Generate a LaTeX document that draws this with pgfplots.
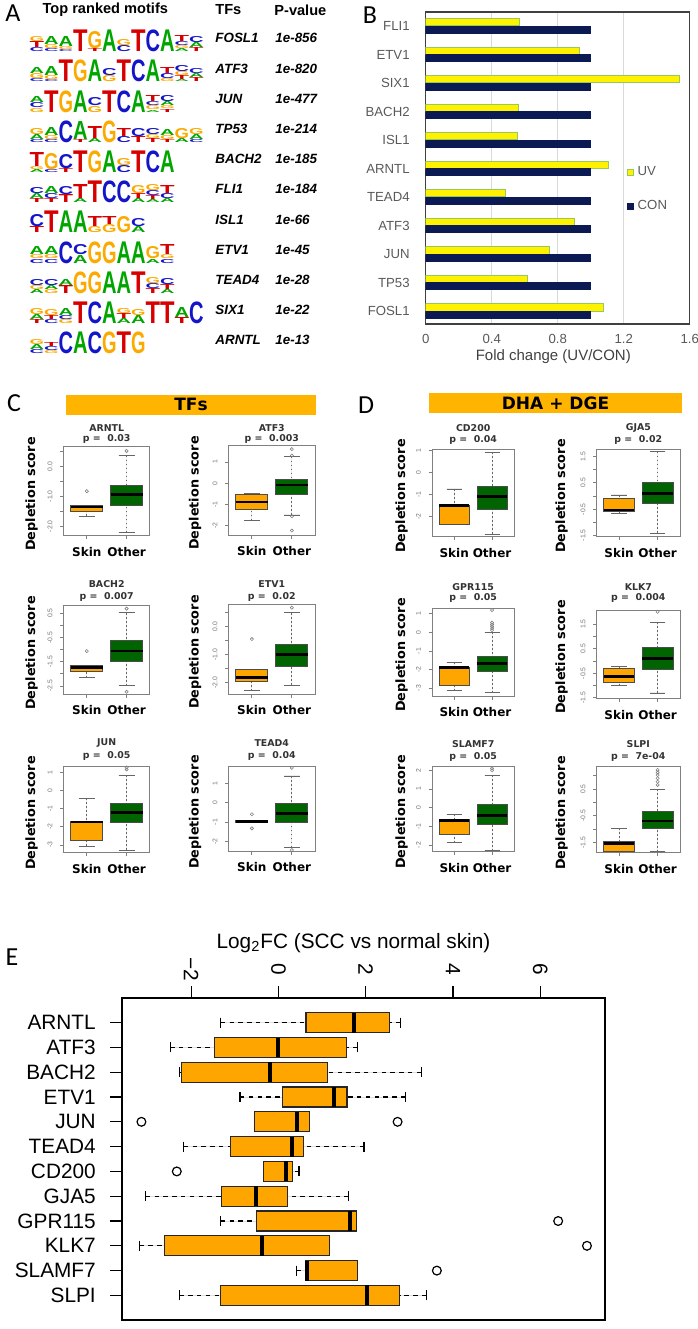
\documentclass[border=0pt]{standalone}
\usepackage{fontspec}
\setmainfont{Liberation Sans}
\newfontfamily\dv{DejaVu Sans}
\newfontfamily\carl{Carlito}
\usepackage{graphicx}
\usepackage{pgfplots}
\usepackage{pgfplotstable}
\usepgfplotslibrary{statistics}
\pgfplotsset{compat=1.18}
\newcommand\pxu{0.5pt}
\newcommand\fs[1]{\fontsize{#1}{#1}\selectfont}
\definecolor{orgR}{HTML}{FFA500}
\definecolor{dgreen}{HTML}{006400}
\definecolor{banner}{RGB}{255,180,0}
\definecolor{navyB}{RGB}{12,26,84}
\definecolor{uvedge}{RGB}{150,200,90}
\definecolor{lgA}{RGB}{0,165,0}
\definecolor{lgC}{RGB}{20,20,200}
\definecolor{lgG}{RGB}{250,170,0}
\definecolor{lgT}{RGB}{215,0,0}
\newcommand\Lt[2]{\hbox{\color{lg#1}\resizebox{7.25pt}{#2pt}{\bfseries #1}}}
\newcommand\K[1]{\vbox{\offinterlineskip #1}}
\newcommand\F[1]{\K{\Lt{#1}{10.8}}}
\pgfplotstableread{
y uv con
0 1.079 1.0
1 0.616 1.0
2 0.749 1.0
3 0.899 1.0
4 0.485 1.0
5 1.109 1.0
6 0.557 1.0
7 0.563 1.0
8 1.535 1.0
9 0.931 1.0
10 0.570 1.0
}\tfB
\pgfplotsset{
 boxplot/draw/lower whisker/.code={%
  \draw[/pgfplots/boxplot/every whisker/.try] (boxplot box cs:\pgfplotsboxplotvalue{lower whisker},0.5) -- (boxplot box cs:\pgfplotsboxplotvalue{lower quartile},0.5);
  \draw[/pgfplots/boxplot/every cap/.try] (boxplot whisker cs:\pgfplotsboxplotvalue{lower whisker},0) -- (boxplot whisker cs:\pgfplotsboxplotvalue{lower whisker},1);
 },
 boxplot/draw/upper whisker/.code={%
  \draw[/pgfplots/boxplot/every whisker/.try] (boxplot box cs:\pgfplotsboxplotvalue{upper whisker},0.5) -- (boxplot box cs:\pgfplotsboxplotvalue{upper quartile},0.5);
  \draw[/pgfplots/boxplot/every cap/.try] (boxplot whisker cs:\pgfplotsboxplotvalue{upper whisker},0) -- (boxplot whisker cs:\pgfplotsboxplotvalue{upper whisker},1);
 },
 bp/.style n args={6}{boxplot prepared={draw position=#1,lower whisker=#2,lower quartile=#3,median=#4,upper quartile=#5,upper whisker=#6}},
 dep/.style={scale only axis, anchor=north west, xmin=0.42, xmax=2.58, xtick={1,2}, xticklabels={Skin,Other},
  axis line style={black!50, line width=0.5pt}, tick style={black!50, line width=0.4pt}, tick align=outside,
  major tick length=1.8pt, xtick pos=left, ytick pos=left, clip=false,
  xticklabel style={font=\dv\bfseries\fs{6}, text=black, anchor=center, yshift=-6.45pt},
  yticklabel style={font=\fs{3.4}, text=black!55, anchor=center, xshift=-5.05pt, rotate=90},
  boxplot/draw direction=y, boxplot/box extend=0.8, boxplot/whisker extend=0.4,
  boxplot/every whisker/.style={dash pattern=on 0.9pt off 1.1pt, black!60, line width=0.4pt},
  boxplot/every cap/.style={solid, black!60, line width=0.4pt},
  boxplot/every median/.style={solid, black, line width=1.3pt},
  boxplot/every box/.style={draw=black!70, line width=0.4pt}},
 skin/.style={fill=orgR, draw=black!70, mark=o, mark size=0.8pt, mark options={solid, black!50, line width=0.3pt, fill=none}},
 other/.style={fill=dgreen, draw=black!70, mark=o, mark size=0.8pt, mark options={solid, black!50, line width=0.3pt, fill=none}},
 ebox/.style={fill=orgR, draw=black!85, line width=0.6pt, mark=o, mark size=2.2pt, mark options={solid, black, line width=0.6pt, fill=none}},
}
\newcommand\ptitle[4]{\node[font=\dv\bfseries\fs{4.7}, text=black!80] at (#1*\pxu,-#2*\pxu) {#4};}
\begin{document}
\begin{tikzpicture}
\path[use as bounding box] (0,0) rectangle (697*\pxu,-1329*\pxu);
% ---------------- Panel A ----------------
\node[font=\carl\fs{13}] at (13*\pxu,-13.5*\pxu) {A};
\node[font=\bfseries\fs{7.3}] at (105.3*\pxu,-10*\pxu) {Top ranked motifs};
\node[font=\bfseries\fs{7.3}, anchor=west, inner sep=0pt] at (215*\pxu,-10*\pxu) {TFs};
\node[font=\bfseries\fs{7.3}, anchor=west, inner sep=0pt] at (274*\pxu,-10*\pxu) {P-value};
\begin{scope}[every node/.style={anchor=south west, inner sep=0pt}]
\node at (29.3*\pxu,-52.3*\pxu) {\K{\Lt{G}{2.5}\Lt{T}{3}\Lt{C}{2}}\K{\Lt{A}{4}\Lt{G}{2}\Lt{C}{1.5}}\K{\Lt{A}{5}\Lt{G}{1.5}\Lt{C}{1}}\F{T}\K{\Lt{G}{8.5}\Lt{T}{1.5}}\F{A}\K{\Lt{G}{3}\Lt{C}{3}}\F{T}\F{C}\F{A}\K{\Lt{T}{3}\Lt{C}{2}\Lt{G}{1.5}\Lt{A}{1.5}}\K{\Lt{C}{3}\Lt{A}{2.5}\Lt{T}{2}}};
\node at (29.3*\pxu,-82.5*\pxu) {\K{\Lt{A}{3}\Lt{G}{2.5}\Lt{C}{1.5}}\K{\Lt{A}{4.5}\Lt{G}{2}\Lt{C}{1}}\F{T}\F{G}\F{A}\K{\Lt{C}{3.5}\Lt{G}{3}}\F{T}\F{C}\F{A}\K{\Lt{T}{3}\Lt{C}{2.5}\Lt{G}{1.5}}\K{\Lt{C}{3}\Lt{G}{2}\Lt{T}{2}\Lt{A}{1}}\K{\Lt{C}{2.5}\Lt{A}{2}\Lt{T}{2}}};
\node at (29.3*\pxu,-112.7*\pxu) {\K{\Lt{A}{3}\Lt{C}{2.5}\Lt{G}{2}}\F{T}\F{G}\F{A}\K{\Lt{C}{4}\Lt{G}{3}}\F{T}\F{C}\F{A}\K{\Lt{T}{3}\Lt{C}{2}\Lt{G}{2}\Lt{A}{1}}\K{\Lt{C}{3}\Lt{A}{2}\Lt{G}{1.5}\Lt{T}{1.5}}};
\node at (29.3*\pxu,-142.9*\pxu) {\K{\Lt{G}{3}\Lt{A}{2.5}\Lt{C}{1.5}}\K{\Lt{A}{4}\Lt{G}{2}\Lt{C}{1.5}}\F{C}\K{\Lt{A}{9}\Lt{T}{1.5}}\K{\Lt{T}{6}\Lt{A}{2}}\F{G}\K{\Lt{T}{4}\Lt{C}{3}}\K{\Lt{C}{4}\Lt{T}{3}}\K{\Lt{C}{3}\Lt{G}{2}\Lt{T}{2}}\K{\Lt{A}{3}\Lt{G}{2}\Lt{T}{1.5}}\K{\Lt{G}{5}\Lt{A}{2}}\K{\Lt{G}{3}\Lt{A}{2.5}\Lt{C}{1.5}}};
\node at (29.3*\pxu,-173.1*\pxu) {\K{\Lt{T}{7}\Lt{G}{1.5}\Lt{A}{1.5}}\K{\Lt{G}{8}\Lt{C}{1.5}}\K{\Lt{C}{7}\Lt{T}{2}}\F{T}\F{G}\F{A}\K{\Lt{G}{3.5}\Lt{C}{3.5}}\F{T}\F{C}\F{A}};
\node at (29.3*\pxu,-203.3*\pxu) {\K{\Lt{C}{3}\Lt{A}{2.5}\Lt{T}{2}}\K{\Lt{A}{3.5}\Lt{C}{2.5}\Lt{T}{2}}\K{\Lt{C}{4}\Lt{T}{4}}\K{\Lt{T}{7}\Lt{A}{2}}\F{T}\F{C}\F{C}\K{\Lt{G}{4}\Lt{T}{2.5}\Lt{A}{2}}\K{\Lt{G}{3}\Lt{C}{2.5}\Lt{T}{2}\Lt{A}{1.5}}\K{\Lt{T}{4}\Lt{C}{2.5}\Lt{A}{2}}};
\node at (29.3*\pxu,-233.5*\pxu) {\K{\Lt{C}{6}\Lt{T}{3}}\F{T}\F{A}\F{A}\K{\Lt{T}{5}\Lt{G}{3}}\K{\Lt{T}{4}\Lt{G}{4}}\K{\Lt{G}{8}}\K{\Lt{C}{4}\Lt{A}{3}}};
\node at (29.3*\pxu,-263.7*\pxu) {\K{\Lt{A}{4}\Lt{G}{2}\Lt{C}{2}}\K{\Lt{A}{4}\Lt{G}{2}\Lt{C}{2}}\F{C}\K{\Lt{C}{5}\Lt{A}{4}}\F{G}\F{G}\F{A}\F{A}\K{\Lt{G}{6}\Lt{A}{2}}\K{\Lt{T}{5}\Lt{G}{2}\Lt{C}{2}}};
\node at (29.3*\pxu,-293.9*\pxu) {\K{\Lt{C}{3}\Lt{G}{2}\Lt{A}{2}}\K{\Lt{C}{3}\Lt{A}{2}\Lt{G}{2}}\K{\Lt{A}{3}\Lt{T}{4}}\F{G}\F{G}\F{A}\F{A}\F{T}\K{\Lt{G}{3}\Lt{C}{2.5}\Lt{T}{2.5}}\K{\Lt{C}{3}\Lt{T}{2.5}\Lt{A}{2}}};
\node at (29.3*\pxu,-324.1*\pxu) {\K{\Lt{G}{3}\Lt{A}{2.5}\Lt{T}{2}}\K{\Lt{G}{3}\Lt{T}{2}\Lt{C}{2}}\K{\Lt{A}{3.5}\Lt{C}{2}\Lt{G}{2}}\F{T}\F{C}\F{A}\K{\Lt{G}{2.5}\Lt{T}{2.5}\Lt{A}{2.5}}\K{\Lt{G}{3}\Lt{A}{4}}\F{T}\F{T}\K{\Lt{A}{5}\Lt{T}{3}}\F{C}};
\node at (29.3*\pxu,-354.3*\pxu) {\K{\Lt{G}{2.5}\Lt{A}{2.5}\Lt{C}{2}}\K{\Lt{T}{2}\Lt{C}{2}\Lt{G}{1.5}}\F{C}\F{A}\F{C}\F{G}\F{T}\F{G}};
\end{scope}
\begin{scope}[every node/.style={anchor=west, inner sep=0pt, font=\bfseries\itshape\fs{6.7}}]
\node at (215*\pxu,-38.3*\pxu) {FOSL1};  \node at (275*\pxu,-38.3*\pxu) {1e-856};
\node at (215*\pxu,-68.5*\pxu) {ATF3};   \node at (275*\pxu,-68.5*\pxu) {1e-820};
\node at (215*\pxu,-98.7*\pxu) {JUN};    \node at (275*\pxu,-98.7*\pxu) {1e-477};
\node at (215*\pxu,-128.9*\pxu) {TP53};  \node at (275*\pxu,-128.9*\pxu) {1e-214};
\node at (215*\pxu,-159.1*\pxu) {BACH2}; \node at (275*\pxu,-159.1*\pxu) {1e-185};
\node at (215*\pxu,-189.3*\pxu) {FLI1};  \node at (275*\pxu,-189.3*\pxu) {1e-184};
\node at (215*\pxu,-219.5*\pxu) {ISL1};  \node at (275*\pxu,-219.5*\pxu) {1e-66};
\node at (215*\pxu,-249.7*\pxu) {ETV1};  \node at (275*\pxu,-249.7*\pxu) {1e-45};
\node at (215*\pxu,-279.9*\pxu) {TEAD4}; \node at (275*\pxu,-279.9*\pxu) {1e-28};
\node at (215*\pxu,-310.1*\pxu) {SIX1};  \node at (275*\pxu,-310.1*\pxu) {1e-22};
\node at (215*\pxu,-340.3*\pxu) {ARNTL}; \node at (275*\pxu,-340.3*\pxu) {1e-13};
\end{scope}
% ---------------- Panel B ----------------
\node[font=\carl\fs{13}] at (370*\pxu,-15*\pxu) {B};
\begin{axis}[at={(425.7*\pxu,-324*\pxu)}, anchor=south west, scale only axis,
 width=264*\pxu, height=312*\pxu, xmin=0, xmax=1.6, ymin=-0.456, ymax=10.49,
 xtick={0,0.4,0.8,1.2,1.6}, xticklabels={0,0.4,0.8,1.2,1.6},
 ytick={0,...,10}, yticklabels={FOSL1,TP53,JUN,ATF3,TEAD4,ARNTL,ISL1,BACH2,SIX1,ETV1,FLI1},
 major tick length=0pt, xmajorgrids, major grid style={black!15, line width=0.5pt},
 axis line style={black!75, line width=0.7pt},
 tick label style={font=\fs{6.6}, text=black!65},
 yticklabel style={xshift=-4.5pt}, xticklabel style={yshift=-1.75pt},
 legend image code/.code={\draw[#1] (0pt,-1.4pt) rectangle (3pt,1.4pt);},
 legend style={at={(0.7606,0.52)}, anchor=north west, draw=none, fill=none, font=\fs{6.6}, text=black!65, row sep=7pt, inner sep=0pt},
 legend cell align=left]
\addplot[xbar, bar width=3.6pt, bar shift=1.85pt, fill=yellow, draw=uvedge, line width=0.4pt] table[x=uv,y=y]{\tfB};
\addlegendentry{UV}
\addplot[xbar, bar width=3.6pt, bar shift=-1.85pt, fill=navyB, draw=navyB, line width=0.4pt] table[x=con,y=y]{\tfB};
\addlegendentry{CON}
\end{axis}
\node[font=\fs{7.5}, text=black!75] at (553.3*\pxu,-356.7*\pxu) {Fold change (UV/CON)};
% ---------------- Panel C / D headers ----------------
\node[font=\carl\fs{13}] at (14*\pxu,-403*\pxu) {C};
\node[font=\carl\fs{13}] at (366*\pxu,-405*\pxu) {D};
\fill[banner] (66*\pxu,-395*\pxu) rectangle (316*\pxu,-414.5*\pxu);
\node[font=\dv\bfseries\fs{8.5}] at (191*\pxu,-404.7*\pxu) {TFs};
\fill[banner] (429.3*\pxu,-393.3*\pxu) rectangle (681.7*\pxu,-412.7*\pxu);
\node[font=\dv\bfseries\fs{8.5}] at (555.5*\pxu,-403*\pxu) {DHA + DGE};
% titles
\ptitle{106.7}{428.3}{}{ARNTL} \ptitle{106.7}{439.3}{}{p =\ \ 0.03}
\ptitle{271.8}{428.3}{}{ATF3} \ptitle{271.8}{439.3}{}{p =\ \ 0.003}
\ptitle{106.7}{584}{}{BACH2} \ptitle{106.7}{596.5}{}{p =\ \ 0.007}
\ptitle{271.8}{584}{}{ETV1} \ptitle{271.8}{596.5}{}{p =\ \ 0.02}
\ptitle{106.7}{743}{}{JUN} \ptitle{106.7}{756}{}{p =\ \ 0.05}
\ptitle{271.8}{743}{}{TEAD4} \ptitle{271.8}{756}{}{p =\ \ 0.04}
\ptitle{473.2}{428.3}{}{CD200} \ptitle{473.2}{440}{}{p =\ \ 0.04}
\ptitle{638.3}{428.3}{}{GJA5} \ptitle{638.3}{440}{}{p =\ \ 0.02}
\ptitle{473.2}{587.3}{}{GPR115} \ptitle{473.2}{598.3}{}{p =\ \ 0.05}
\ptitle{638.3}{587.3}{}{KLK7} \ptitle{638.3}{598.3}{}{p =\ \ 0.004}
\ptitle{473.2}{744}{}{SLAMF7} \ptitle{473.2}{756.7}{}{p =\ \ 0.05}
\ptitle{638.3}{744}{}{SLPI} \ptitle{638.3}{756.7}{}{p =\ \ 7e-04}
% y labels
\begin{scope}[every node/.style={rotate=90, font=\dv\bfseries\fs{6.4}}]
\node at (31.7*\pxu,-494*\pxu) {Depletion score};
\node at (195*\pxu,-493*\pxu) {Depletion score};
\node at (31.7*\pxu,-653*\pxu) {Depletion score};
\node at (195*\pxu,-652*\pxu) {Depletion score};
\node at (31.7*\pxu,-813*\pxu) {Depletion score};
\node at (195*\pxu,-812*\pxu) {Depletion score};
\node at (401.7*\pxu,-496*\pxu) {Depletion score};
\node at (561.7*\pxu,-496*\pxu) {Depletion score};
\node at (401.7*\pxu,-655*\pxu) {Depletion score};
\node at (561.7*\pxu,-657*\pxu) {Depletion score};
\node at (401.7*\pxu,-812*\pxu) {Depletion score};
\node at (561.7*\pxu,-813*\pxu) {Depletion score};
\end{scope}
% ARNTL
\begin{axis}[dep, at={(63.7*\pxu,-446.7*\pxu)}, width=86*\pxu, height=89*\pxu, ymin=-2.32, ymax=0.66,
 ytick={-2,-1.5,-1,-0.5,0,0.5}, yticklabels={-2.0,,-1.0,,0.0,}]
\addplot[skin, bp={1}{-1.67}{-1.49}{-1.36}{-1.31}{-1.31}] table[row sep=\\,y index=0]{v\\ -0.83\\};
\addplot[other, bp={2}{-2.21}{-1.30}{-0.94}{-0.63}{0.36}] table[row sep=\\,y index=0]{v\\ 0.52\\};
\end{axis}
% ATF3
\begin{axis}[dep, at={(228.7*\pxu,-445.3*\pxu)}, width=86.3*\pxu, height=89.7*\pxu, ymin=-2.43, ymax=1.78,
 ytick={-2,-1,0,1}, yticklabels={-2,-1,0,1}]
\addplot[skin, bp={1}{-1.74}{-1.25}{-0.88}{-0.52}{-0.47}] coordinates {};
\addplot[other, bp={2}{-1.49}{-0.52}{-0.08}{0.19}{1.25}] table[row sep=\\,y index=0]{v\\ 1.6\\ 1.3\\ -1.55\\ -2.22\\};
\end{axis}
% BACH2
\begin{axis}[dep, at={(63.7*\pxu,-605.7*\pxu)}, width=86*\pxu, height=88.3*\pxu, ymin=-2.83, ymax=0.81,
 ytick={-2.5,-2,-1.5,-1,-0.5,0,0.5}, yticklabels={-2.5,,-1.5,,-0.5,,0.5}]
\addplot[skin, bp={1}{-2.16}{-1.88}{-1.73}{-1.64}{-1.64}] table[row sep=\\,y index=0]{v\\ -1.06\\};
\addplot[other, bp={2}{-2.48}{-1.47}{-1.05}{-0.64}{0.52}] table[row sep=\\,y index=0]{v\\ 0.69\\ -2.74\\};
\end{axis}
% ETV1
\begin{axis}[dep, at={(228.7*\pxu,-604*\pxu)}, width=86.3*\pxu, height=90*\pxu, ymin=-2.40, ymax=0.81,
 ytick={-2,-1.5,-1,-0.5,0,0.5}, yticklabels={-2.0,,-1.0,,0.0,}]
\addplot[skin, bp={1}{-2.28}{-1.94}{-1.82}{-1.54}{-1.54}] table[row sep=\\,y index=0]{v\\ -0.44\\};
\addplot[other, bp={2}{-2.08}{-1.40}{-0.99}{-0.64}{0.5}] table[row sep=\\,y index=0]{v\\ 0.68\\};
\end{axis}
% JUN
\begin{axis}[dep, at={(63.7*\pxu,-766.7*\pxu)}, width=86*\pxu, height=86*\pxu, ymin=-3.43, ymax=1.33,
 ytick={-3,-2,-1,0,1}, yticklabels={-3,-2,-1,0,1}]
\addplot[skin, bp={1}{-3.06}{-2.73}{-1.73}{-1.68}{-0.42}] coordinates {};
\addplot[other, bp={2}{-3.28}{-1.77}{-1.20}{-0.70}{0.87}] table[row sep=\\,y index=0]{v\\ 1.29\\ 1.18\\};
\end{axis}
% TEAD4
\begin{axis}[dep, at={(228.7*\pxu,-766.7*\pxu)}, width=86.3*\pxu, height=84.3*\pxu, ymin=-2.5, ymax=1.86,
 ytick={-2,-1,0,1}, yticklabels={-2,-1,0,1}]
\addplot[skin, bp={1}{-1.01}{-1.01}{-0.96}{-0.91}{-0.91}] table[row sep=\\,y index=0]{v\\ -0.60\\ -1.33\\};
\addplot[other, bp={2}{-2.31}{-1.02}{-0.55}{-0.03}{1.38}] table[row sep=\\,y index=0]{v\\ 1.8\\ -2.45\\};
\end{axis}
% CD200
\begin{axis}[dep, at={(432.3*\pxu,-449*\pxu)}, width=81.7*\pxu, height=87.7*\pxu, ymin=-2.9, ymax=1.05,
 ytick={-2,-1,0,1}, yticklabels={-2,-1,0,1}]
\addplot[skin, bp={1}{-2.33}{-2.33}{-1.50}{-1.47}{-0.75}] coordinates {};
\addplot[other, bp={2}{-2.79}{-1.65}{-1.10}{-0.62}{0.90}] coordinates {};
\end{axis}
% GJA5
\begin{axis}[dep, at={(596.7*\pxu,-449*\pxu)}, width=83.3*\pxu, height=87.7*\pxu, ymin=-1.55, ymax=1.79,
 ytick={-1.5,-1,-0.5,0,0.5,1,1.5}, yticklabels={-1.5,,-0.5,,0.5,,1.5}]
\addplot[skin, bp={1}{-0.68}{-0.57}{-0.54}{-0.09}{0.04}] coordinates {};
\addplot[other, bp={2}{-1.41}{-0.27}{0.10}{0.53}{1.69}] coordinates {};
\end{axis}
% GPR115
\begin{axis}[dep, at={(432.3*\pxu,-608*\pxu)}, width=81.7*\pxu, height=88*\pxu, ymin=-3.42, ymax=1.31,
 ytick={-3,-2,-1,0,1}, yticklabels={-3,-2,-1,0,1}]
\addplot[skin, bp={1}{-3.14}{-2.83}{-1.88}{-1.88}{-1.61}] coordinates {};
\addplot[other, bp={2}{-3.25}{-2.12}{-1.67}{-1.27}{0.0}] table[row sep=\\,y index=0]{v\\ 1.2\\ 0.52\\ 0.42\\ 0.32\\ 0.22\\ 0.12\\};
\end{axis}
% KLK7
\begin{axis}[dep, at={(596.7*\pxu,-610*\pxu)}, width=83.3*\pxu, height=88.3*\pxu, ymin=-1.52, ymax=2.07,
 ytick={-1.5,-1,-0.5,0,0.5,1,1.5}, yticklabels={-1.5,,-0.5,,0.5,,1.5}]
\addplot[skin, bp={1}{-1.0}{-0.87}{-0.64}{-0.31}{-0.24}] coordinates {};
\addplot[other, bp={2}{-1.30}{-0.34}{0.11}{0.56}{1.58}] table[row sep=\\,y index=0]{v\\ 2.0\\};
\end{axis}
% SLAMF7
\begin{axis}[dep, at={(432.3*\pxu,-766.7*\pxu)}, width=81.7*\pxu, height=85*\pxu, ymin=-2.35, ymax=2.19,
 ytick={-2,-1,0,1,2}, yticklabels={-2,-1,0,1,2}]
\addplot[skin, bp={1}{-1.87}{-1.40}{-0.69}{-0.62}{-0.34}] coordinates {};
\addplot[other, bp={2}{-2.29}{-0.89}{-0.43}{0.18}{1.74}] table[row sep=\\,y index=0]{v\\ 2.1\\ 2.0\\};
\end{axis}
% SLPI
\begin{axis}[dep, at={(596.7*\pxu,-766.7*\pxu)}, width=83.3*\pxu, height=86*\pxu, ymin=-1.88, ymax=1.33,
 ytick={-1.5,-1,-0.5,0,0.5,1}, yticklabels={-1.5,,-0.5,,0.5,}]
\addplot[skin, bp={1}{-1.83}{-1.82}{-1.53}{-1.45}{-0.97}] coordinates {};
\addplot[other, bp={2}{-1.84}{-0.97}{-0.70}{-0.35}{0.49}] table[row sep=\\,y index=0]{v\\ 1.21\\ 1.11\\ 1.02\\ 0.90\\ 0.77\\ 0.65\\};
\end{axis}
% ---------------- Panel E ----------------
\node[font=\carl\fs{13}] at (12*\pxu,-957*\pxu) {E};
\node[font=\fs{10.4}] at (353.5*\pxu,-943*\pxu) {Log\textsubscript{2}FC (SCC vs normal skin)};
\begin{axis}[at={(121.8*\pxu,-998.3*\pxu)}, anchor=north west, scale only axis,
 width=483.5*\pxu, height=321.4*\pxu, xmin=-3.59, xmax=7.49, ymin=0.02, ymax=12.98, y dir=reverse,
 xtick={-2,0,2,4,6}, xticklabels={−2,0,2,4,6}, xtick pos=right, xticklabel pos=right,
 ytick={1,...,12}, yticklabels={ARNTL,ATF3,BACH2,ETV1,JUN,TEAD4,CD200,GJA5,GPR115,KLK7,SLAMF7,SLPI},
 ytick pos=left, tick align=outside, major tick length=6pt, tick style={black, line width=0.6pt},
 axis line style={black, line width=0.9pt}, tick label style={font=\fs{10.4}},
 yticklabel style={xshift=-3.5pt}, xticklabel style={yshift=8.65pt, rotate=-90, anchor=center},
 clip=false,
 boxplot/box extend=0.8, boxplot/whisker extend=0.4,
 boxplot/every whisker/.style={dash pattern=on 2.2pt off 2.2pt, black, line width=0.6pt},
 boxplot/every cap/.style={solid, black, line width=0.6pt},
 boxplot/every median/.style={solid, black, line width=2pt},
 boxplot/every box/.style={draw=black!85, line width=0.6pt}]
\addplot[ebox, bp={1}{-1.32}{0.63}{1.74}{2.54}{2.80}] coordinates {};
\addplot[ebox, bp={2}{-2.48}{-1.46}{0.00}{1.56}{1.81}] coordinates {};
\addplot[ebox, bp={3}{-2.26}{-2.22}{-0.20}{1.12}{3.27}] coordinates {};
\addplot[ebox, bp={4}{-0.88}{0.10}{1.28}{1.57}{2.91}] coordinates {};
\addplot[ebox, bp={5}{-0.55}{-0.55}{0.43}{0.71}{0.71}] table[row sep=\\,y index=0]{v\\ -3.14\\ 2.73\\};
\addplot[ebox, bp={6}{-2.17}{-1.09}{0.31}{0.57}{1.96}] coordinates {};
\addplot[ebox, bp={7}{-0.34}{-0.34}{0.17}{0.33}{0.47}] table[row sep=\\,y index=0]{v\\ -2.33\\};
\addplot[ebox, bp={8}{-3.04}{-1.30}{-0.51}{0.21}{1.61}] coordinates {};
\addplot[ebox, bp={9}{-1.32}{-0.50}{1.65}{1.79}{1.79}] table[row sep=\\,y index=0]{v\\ 6.41\\};
\addplot[ebox, bp={10}{-3.18}{-2.61}{-0.37}{1.17}{1.17}] table[row sep=\\,y index=0]{v\\ 7.07\\};
\addplot[ebox, bp={11}{0.41}{0.62}{0.65}{1.82}{1.82}] table[row sep=\\,y index=0]{v\\ 3.63\\};
\addplot[ebox, bp={12}{-2.27}{-1.32}{2.04}{2.78}{3.39}] coordinates {};
\end{axis}
\end{tikzpicture}
\end{document}
